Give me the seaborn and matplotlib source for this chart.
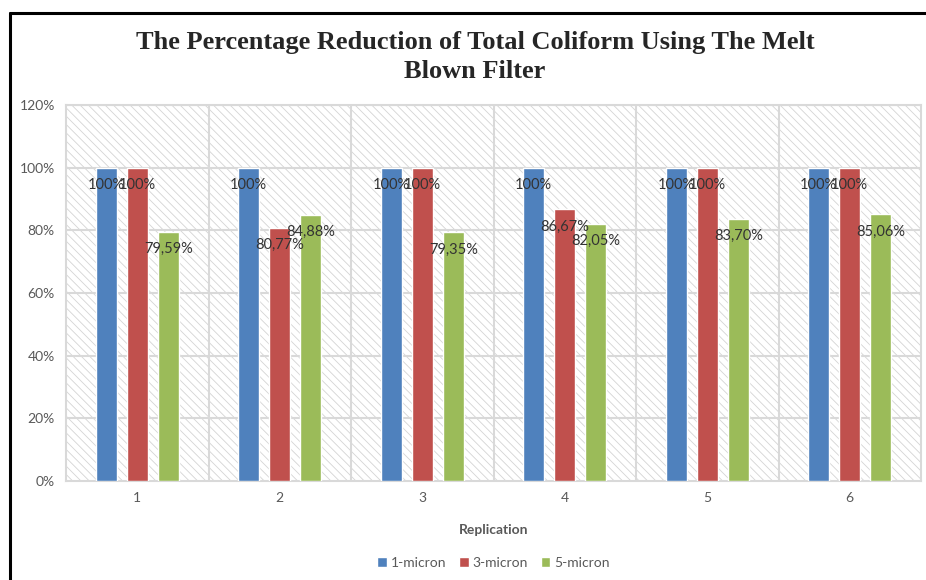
import pandas as pd
import matplotlib.pyplot as plt
import seaborn as sns
from matplotlib.patches import Rectangle
from matplotlib.lines import Line2D

# Values (percent)
replications = ["1", "2", "3", "4", "5", "6"]
filters = ["1-micron", "3-micron", "5-micron"]
micron_1 = [100, 100, 100, 100, 100, 100]
micron_3 = [100, 80.77, 100, 86.67, 100, 100]
micron_5 = [79.59, 84.88, 79.35, 82.05, 83.70, 85.06]
y_ticks = [0, 20, 40, 60, 80, 100, 120]

colors = ["#4F81BD", "#C0504D", "#9BBB59"]

df = pd.DataFrame({
    "Replication": replications * 3,
    "Filter": [f for f in filters for _ in replications],
    "Value": micron_1 + micron_3 + micron_5,
})

sns.set_theme(style="white")
plt.rcParams["font.family"] = ["Lato", "DejaVu Sans"]
plt.rcParams["hatch.color"] = "#d4d4d4"
plt.rcParams["hatch.linewidth"] = 0.6

fig = plt.figure(figsize=(9.26, 5.8), dpi=100)
ax = fig.add_axes([0.0713, 0.1707, 0.9233, 0.6483])

# hatched plot-area background
ax.add_patch(Rectangle((0, 0), 1, 1, transform=ax.transAxes, facecolor="white",
                       hatch="\\\\\\\\", edgecolor="#d4d4d4", linewidth=0, zorder=0))

sns.barplot(data=df, x="Replication", y="Value", hue="Filter", order=replications,
            hue_order=filters, palette=colors, width=0.654, gap=0.33,
            saturation=1, ax=ax, zorder=3, legend=True)

ax.set_ylim(0, 120)
ax.set_xlim(-0.5, len(replications) - 0.5)
ax.set_yticks(y_ticks)
ax.set_yticklabels([f"{t}%" for t in y_ticks])

# grid lines
for t in y_ticks[1:]:
    ax.axhline(t, color="#d9d9d9", lw=1.5, zorder=1)
for i in range(len(replications) - 1):
    ax.axvline(i + 0.5, color="#d9d9d9", lw=1.5, zorder=1)
for s in ax.spines.values():
    s.set_color("#d9d9d9")
    s.set_linewidth(1.5)

ax.tick_params(axis="both", length=0, labelsize=10, labelcolor="#595959", pad=8)
ax.set_ylabel("")
ax.set_xlabel("Replication", fontsize=10, fontweight="bold", color="#595959", labelpad=14)

# data labels
def fmt(v):
    if v == 100:
        return "100%"
    return f"{v:.2f}%".replace(".", ",")

for cont in ax.containers:
    for bar in cont:
        h = bar.get_height()
        ax.annotate(fmt(h), (bar.get_x() + bar.get_width() / 2, h),
                    xytext=(0, -12.5), textcoords="offset points",
                    ha="center", va="center", fontsize=10.5, color="#333333", zorder=5)

leg = ax.legend(loc="center", bbox_to_anchor=(0.5, -0.217), ncol=3,
                frameon=False, fontsize=10, handlelength=0.7, handleheight=0.7,
                columnspacing=0.9, handletextpad=0.3)
for txt in leg.get_texts():
    txt.set_color("#595959")

fig.text(0.513, 0.902,
         "The Percentage Reduction of Total Coliform Using The Melt\nBlown Filter",
         ha="center", va="center", fontsize=19, fontweight="bold",
         family=["Liberation Serif", "DejaVu Serif"], linespacing=1.3)

# outer frame lines (left and top)
fig.add_artist(Line2D([0.011, 0.011], [0.0, 0.977], color="black", lw=2.2))
fig.add_artist(Line2D([0.011, 1.0], [0.977, 0.977], color="black", lw=2.2))

fig.savefig("out.png", dpi=100)
